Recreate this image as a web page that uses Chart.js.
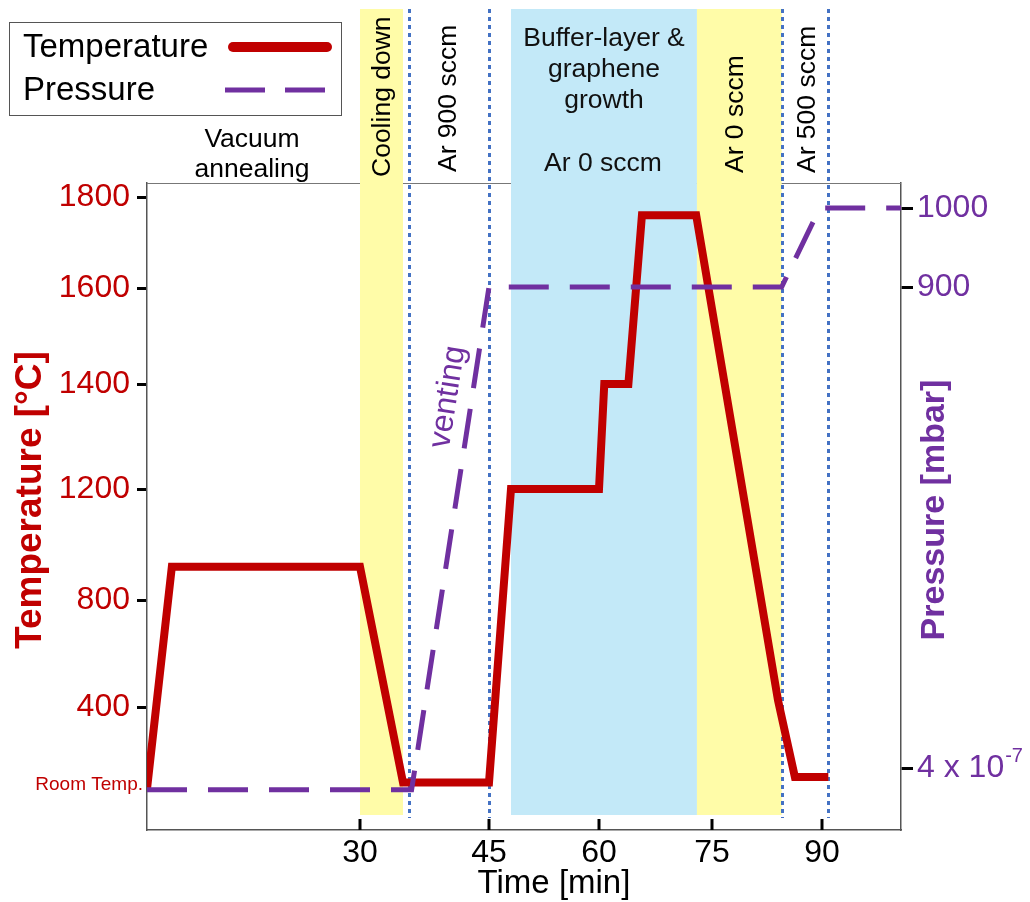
<!DOCTYPE html>
<html>
<head>
<meta charset="utf-8">
<title>Growth process schedule</title>
<script src="https://cdn.jsdelivr.net/npm/chart.js@4.4.1/dist/chart.umd.min.js"></script>
<style>
  html, body { margin: 0; padding: 0; background: #fff; }
  canvas { display: block; }
</style>
</head>
<body>
<canvas id="chart" width="1030" height="902"></canvas>
<script>
// process schedule, time in minutes
const tempTime  = [0, 3.5, 30, 35, 45, 48, 60, 60.7, 63.9, 65.7, 72.9, 84, 86.3, 90.8];
const tempValue = [25, 920, 920, 55, 55, 1200, 1200, 1400, 1400, 1760, 1760, 425, 80, 80];
const pressTime  = [0, 36, 45, 84.5, 89.7, 100];
const pressValue = [2.6e-7, 2.6e-7, 900, 900, 1000, 1000];

const timeTicks  = [30, 45, 60, 75, 90];
const tempTicks  = [25, 400, 800, 1200, 1400, 1600, 1800];
const pressTicks = [4e-7, 900, 1000];
const ROOM_TEMP = 25;

// process phases (shaded) and gas switching moments (dotted)
const phaseStart = [30, 48, 73];
const phaseEnd   = [35, 73, 84.5];
const gasSwitch  = [35.7, 45, 84.5, 90.8];

const RED = "#C00000", PURPLE = "#7030A0", DOT_BLUE = "#4472C4";
const FONT = "'Liberation Sans', Arial, sans-serif";

// the original axes are hand drawn, so each one is a piecewise linear warp:
// [axis value, position on the reference drawing]
const WARP = {
  x:  [[0, 147], [30, 360], [45, 489], [60, 599], [75, 712], [90, 822], [100, 901]],
  yT: [[-162, 830], [25, 789], [400, 707], [800, 600], [1200, 489], [1400, 384], [1600, 288], [1800, 197], [1830, 183]],
  yP: [[0, 830], [4e-7, 768], [900, 287], [1000, 208], [1032, 183]]
};

class WarpScale extends Chart.LinearScale {
  static id = "warp";
  static defaults = Chart.LinearScale.defaults;

  fraction(value) {
    const k = WARP[this.id];
    let i = 1;
    while (i < k.length - 1 && value > k[i][0]) i++;
    const [v0, p0] = k[i - 1], [v1, p1] = k[i];
    const ref = p0 + (value - v0) / (v1 - v0) * (p1 - p0);
    return (ref - k[0][1]) / (k[k.length - 1][1] - k[0][1]);
  }
  getPixelForValue(value) {
    const f = this.fraction(value);
    return this.isHorizontal() ? this.left + f * this.width : this.bottom - f * this.height;
  }
  getValueForPixel(pixel) {
    const k = WARP[this.id];
    const f = this.isHorizontal() ? (pixel - this.left) / this.width : (this.bottom - pixel) / this.height;
    const ref = k[0][1] + f * (k[k.length - 1][1] - k[0][1]);
    for (let i = 1; i < k.length; i++) {
      const [v0, p0] = k[i - 1], [v1, p1] = k[i];
      if ((ref - p0) * (ref - p1) <= 0 || i === k.length - 1) return v0 + (ref - p0) / (p1 - p0) * (v1 - v0);
    }
  }
}
Chart.register(WarpScale);
Chart.defaults.font.family = FONT;

function text(ctx, str, x, y, font, color, align = "center", base = "alphabetic", angle = 0) {
  ctx.save();
  ctx.translate(x, y);
  ctx.rotate(angle);
  ctx.font = font;
  ctx.fillStyle = color;
  ctx.textAlign = align;
  ctx.textBaseline = base;
  ctx.fillText(str, 0, 0);
  ctx.restore();
}

const schematic = {
  id: "schematic",
  beforeDatasetsDraw(chart) {
    const { ctx, chartArea: a, scales: { x } } = chart;
    ctx.save();
    ctx.strokeStyle = "#777";
    ctx.lineWidth = 1;
    ctx.beginPath();
    ctx.moveTo(a.left, a.top + 0.5);
    ctx.lineTo(a.right, a.top + 0.5);
    ctx.stroke();

    const bandColors = ["#FFFCA8", "#C3E9F8", "#FFFCA8"];
    phaseStart.forEach((t, i) => {
      const x0 = x.getPixelForValue(t), x1 = x.getPixelForValue(phaseEnd[i]);
      ctx.fillStyle = bandColors[i];
      ctx.fillRect(x0, 9, x1 - x0, 806);
    });

    ctx.strokeStyle = DOT_BLUE;
    ctx.lineWidth = 3;
    ctx.setLineDash([4, 4]);
    gasSwitch.forEach(t => {
      const px = Math.round(x.getPixelForValue(t)) + 0.5;
      ctx.beginPath();
      ctx.moveTo(px, 9);
      ctx.lineTo(px, 818);
      ctx.stroke();
    });
    ctx.setLineDash([]);

    // time ticks point into the plot
    ctx.strokeStyle = "#000";
    ctx.lineWidth = 3;
    x.ticks.forEach(tk => {
      const px = x.getPixelForValue(tk.value);
      ctx.beginPath();
      ctx.moveTo(px, a.bottom);
      ctx.lineTo(px, a.bottom - 11);
      ctx.stroke();
    });
    ctx.restore();
  },
  afterDraw(chart) {
    const { ctx, scales: { yT, yP } } = chart;
    const f = (s, b) => `${b ? "bold " : ""}${s}px ${FONT}`;

    // legend
    ctx.save();
    ctx.strokeStyle = "#555";
    ctx.lineWidth = 1;
    ctx.strokeRect(9.5, 22.5, 332, 93);
    ctx.lineWidth = 10;
    ctx.lineCap = "round";
    ctx.strokeStyle = RED;
    ctx.beginPath(); ctx.moveTo(233, 47); ctx.lineTo(327, 47); ctx.stroke();
    ctx.lineWidth = 5;
    ctx.lineCap = "butt";
    ctx.strokeStyle = PURPLE;
    ctx.setLineDash([40, 20]);
    ctx.beginPath(); ctx.moveTo(225, 90); ctx.lineTo(325, 90); ctx.stroke();
    ctx.restore();
    text(ctx, "Temperature", 23, 57, f(33), "#000", "left");
    text(ctx, "Pressure", 23, 100, f(33), "#000", "left");

    // axis titles
    text(ctx, "Temperature [°C]", 31, 500, f(37, true), RED, "center", "middle", -Math.PI / 2);
    text(ctx, "Pressure [mbar]", 935, 510, f(34, true), PURPLE, "center", "middle", -Math.PI / 2);
    text(ctx, "Time [min]", 554, 884, f(33), "#000", "center", "middle");

    // room temperature label on the left axis
    text(ctx, "Room Temp.", 143, yT.getPixelForValue(ROOM_TEMP) - 4, f(19), RED, "right", "middle");

    // pressure tick labels
    pressTicks.forEach(v => {
      const py = yP.getPixelForValue(v);
      if (v < 1) {
        const [m, e] = v.toExponential().split("e");
        const base = `${m} x 10`;
        ctx.font = f(32);
        const w = ctx.measureText(base).width;
        text(ctx, base, 917, py, f(32), PURPLE, "left", "middle");
        text(ctx, e, 918 + w, py - 12, f(20), PURPLE, "left", "middle");
      } else {
        text(ctx, String(v), 917, py, f(32), PURPLE, "left", "middle");
      }
    });

    // phase annotations
    const lab = f(26.5);
    text(ctx, "Vacuum", 252, 147, lab, "#000");
    text(ctx, "annealing", 252, 177, lab, "#000");
    text(ctx, "Buffer-layer &", 604, 46, lab, "#111");
    text(ctx, "graphene", 604, 77, lab, "#111");
    text(ctx, "growth", 604, 108, lab, "#111");
    text(ctx, "Ar 0 sccm", 603, 171, lab, "#111");
    const up = -Math.PI / 2;
    text(ctx, "Cooling down", 390, 177, lab, "#000", "left", "alphabetic", up);
    text(ctx, "Ar 900 sccm", 456, 172, lab, "#000", "left", "alphabetic", up);
    text(ctx, "Ar 0 sccm", 743, 173, lab, "#000", "left", "alphabetic", up);
    text(ctx, "Ar 500 sccm", 815, 173, lab, "#000", "left", "alphabetic", up);
    text(ctx, "venting", 448, 397, f(32), PURPLE, "center", "middle", -81 * Math.PI / 180);
  }
};

new Chart(document.getElementById("chart"), {
  type: "line",
  data: {
    datasets: [
      {
        label: "Pressure",
        data: pressTime.map((t, i) => ({ x: t, y: pressValue[i] })),
        yAxisID: "yP",
        borderColor: PURPLE,
        borderWidth: 5,
        borderDash: [40, 21],
        pointRadius: 0,
        order: 0
      },
      {
        label: "Temperature",
        data: tempTime.map((t, i) => ({ x: t, y: tempValue[i] })),
        yAxisID: "yT",
        borderColor: RED,
        borderWidth: 8,
        pointRadius: 0,
        order: 1
      }
    ]
  },
  options: {
    responsive: false,
    animation: false,
    layout: { padding: { top: 183, left: 0, right: 0, bottom: 0 } },
    plugins: { legend: { display: false }, tooltip: { enabled: false } },
    scales: {
      x: {
        type: "warp",
        min: 0,
        max: 100,
        afterBuildTicks: s => { s.ticks = timeTicks.map(v => ({ value: v })); },
        afterFit: s => { s.height = 72; },
        grid: { display: false },
        border: { display: true, color: "#555", width: 1.5 },
        ticks: { color: "#000", font: { size: 32 }, padding: -4, maxRotation: 0, autoSkip: false }
      },
      yT: {
        type: "warp",
        position: "left",
        min: -162,
        max: 1830,
        afterBuildTicks: s => { s.ticks = tempTicks.map(v => ({ value: v })); },
        afterFit: s => { s.width = 147; },
        grid: {
          drawOnChartArea: false,
          tickLength: 10,
          tickWidth: 3,
          tickColor: c => (c.tick && c.tick.value === ROOM_TEMP ? "rgba(0,0,0,0)" : "#000")
        },
        border: { display: true, color: "#555", width: 1.5 },
        ticks: {
          color: RED,
          font: { size: 32 },
          padding: 7,
          autoSkip: false,
          callback: v => (v === ROOM_TEMP ? "" : String(v))
        }
      },
      yP: {
        type: "warp",
        position: "right",
        min: 0,
        max: 1032,
        afterBuildTicks: s => { s.ticks = pressTicks.map(v => ({ value: v })); },
        afterFit: s => { s.width = 129; },
        grid: { drawOnChartArea: false, tickLength: 12, tickWidth: 3, tickColor: "#000" },
        border: { display: true, color: "#555", width: 1.5 },
        ticks: { display: false }
      }
    }
  },
  plugins: [schematic]
});
</script>
</body>
</html>
